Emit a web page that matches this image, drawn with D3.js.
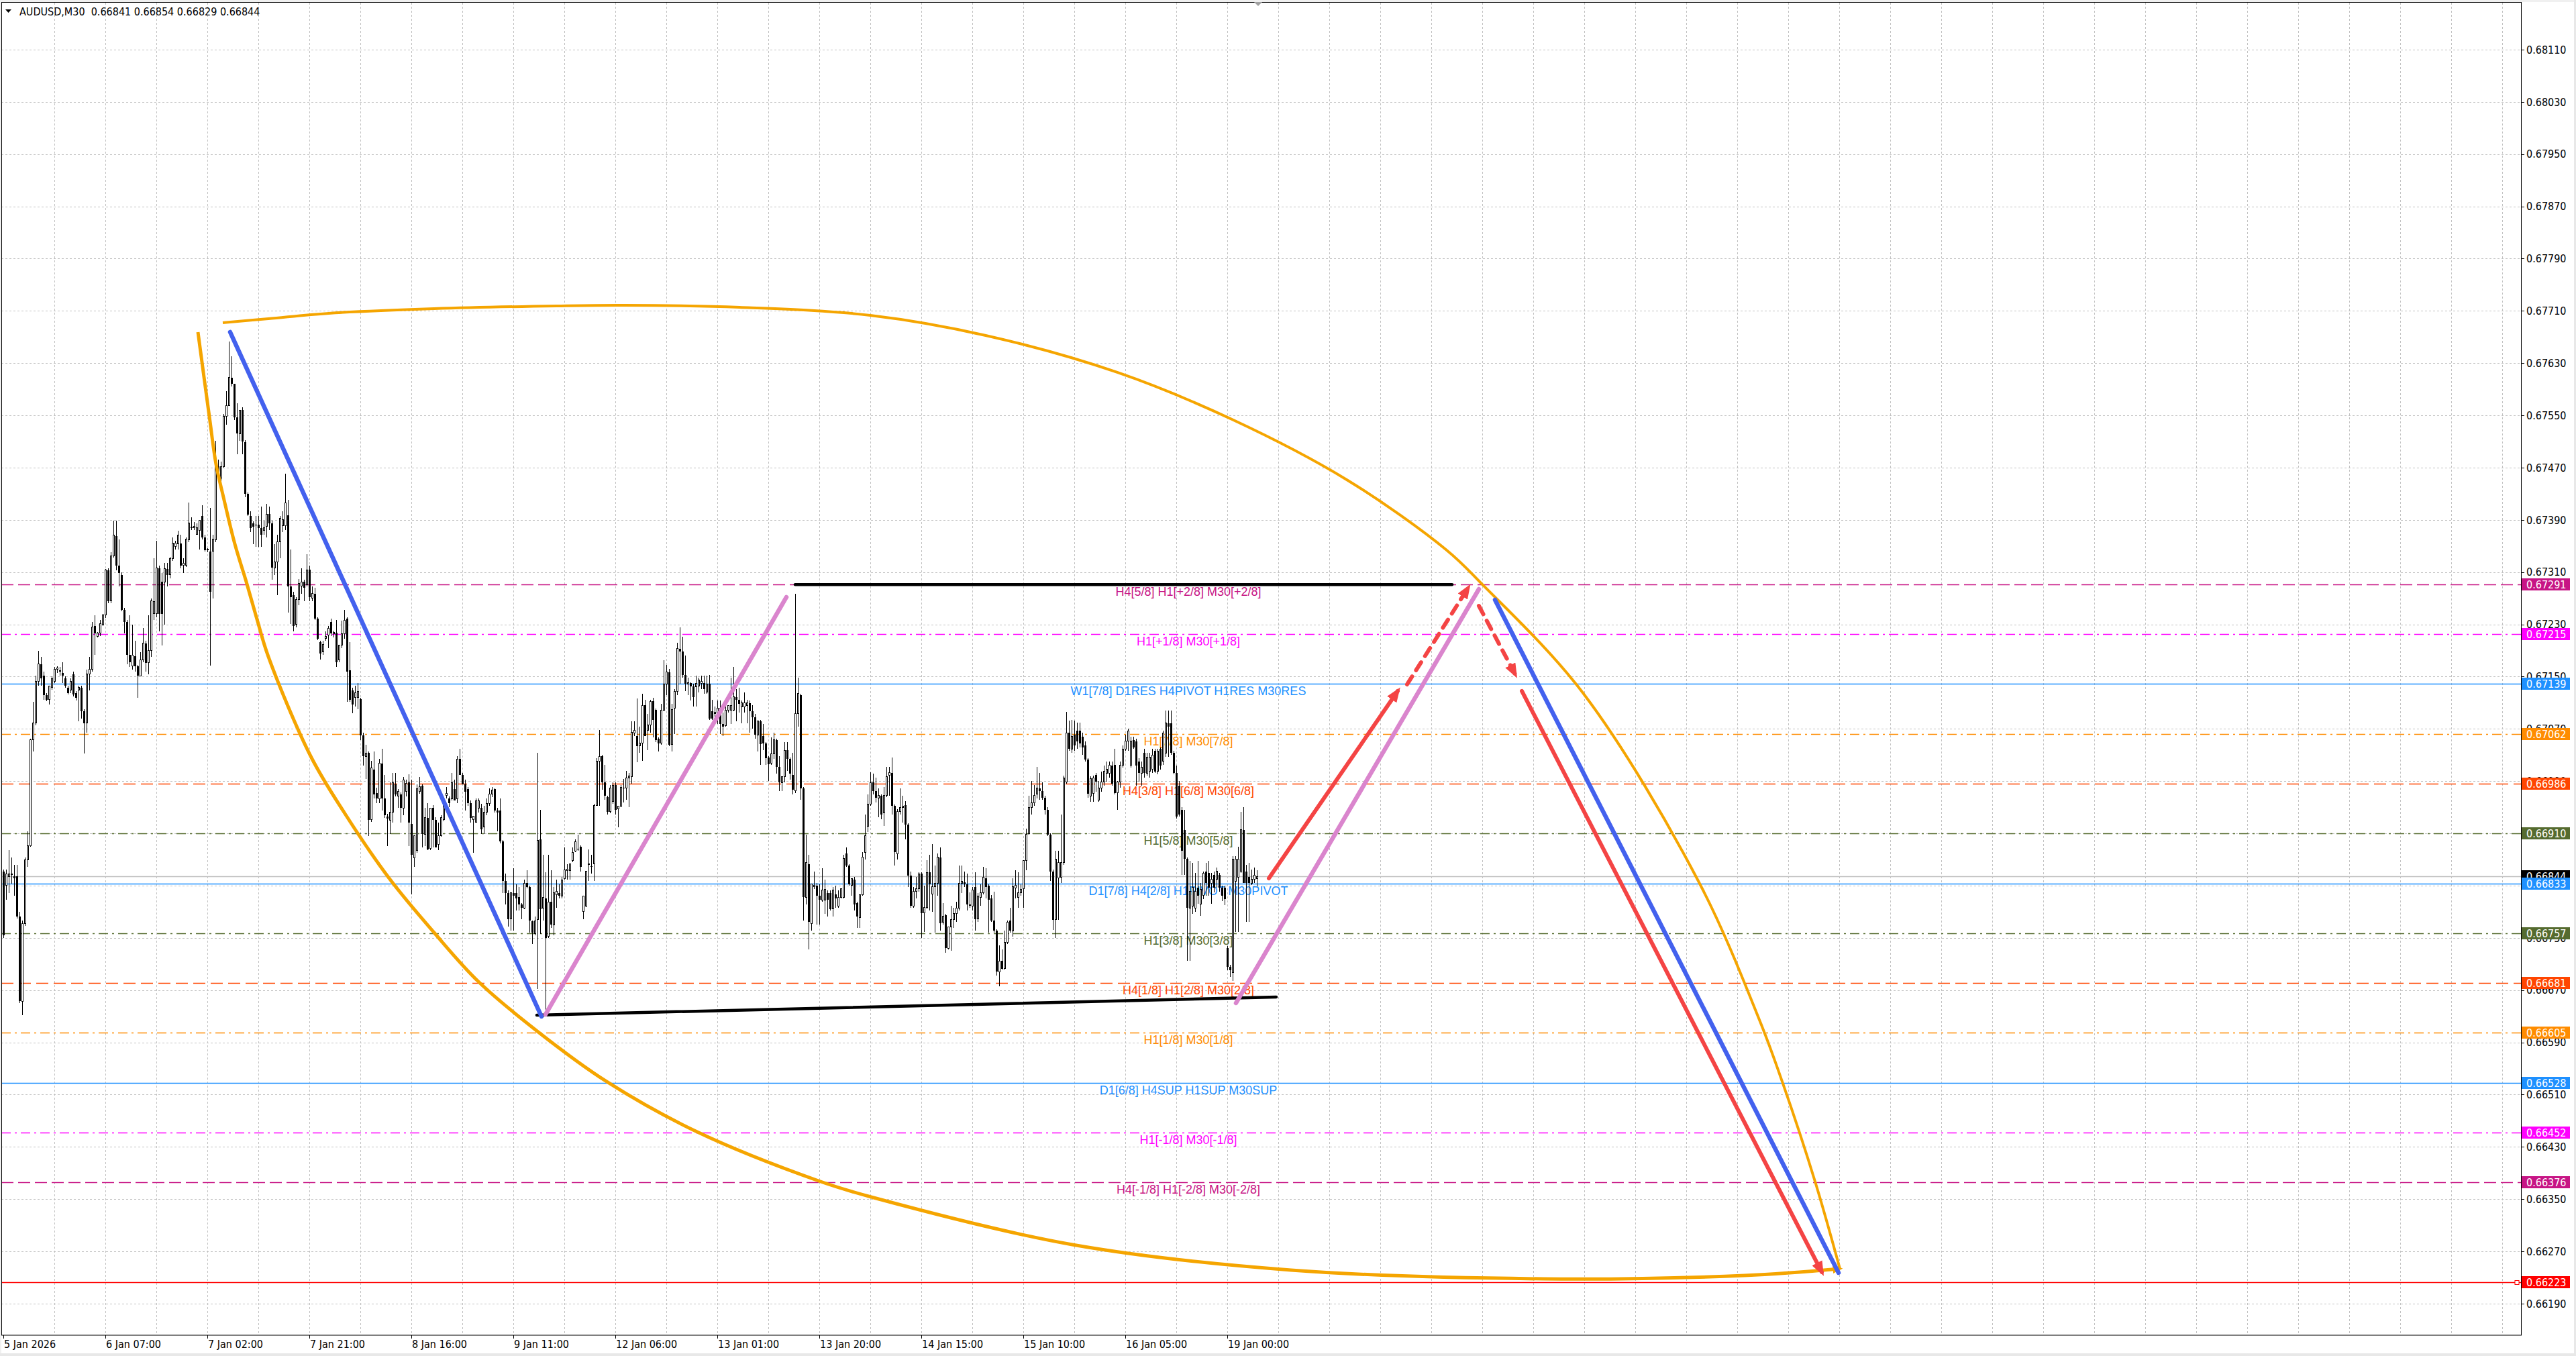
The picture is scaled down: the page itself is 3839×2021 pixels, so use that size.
<!DOCTYPE html>
<html>
<head>
<meta charset="utf-8">
<title>AUDUSD,M30</title>
<script src="https://d3js.org/d3.v7.min.js"></script>
<style>
  html, body { margin: 0; padding: 0; background: #fff; overflow: hidden; }
  svg { display: block; }
  .axis-text { font-family: "DejaVu Sans Condensed", "DejaVu Sans", sans-serif; font-stretch: condensed; font-size: 16px; }
  .level-text { font-family: "Liberation Sans", Arial, sans-serif; font-size: 18px; }
</style>
</head>
<body>
<svg id="chart"></svg>
<script>
/* global d3 */

// ---- data (prices in points, 1 point = 0.00001) ----
var symbol = "AUDUSD,M30";

var opens = [
66851,66830,66844,66848,66844,66844,66783,66653,66772,66869,
66891,67053,67079,67143,67169,67151,67122,67115,67133,67143,
67161,67160,67156,67147,67133,67129,67154,67125,67129,67133,
67097,67079,67154,67161,67228,67212,67217,67230,67244,67313,
67266,67335,67365,67320,67306,67252,67234,67183,67166,67181,
67166,67151,67176,67201,67171,67190,67246,67246,67316,67295,
67295,67315,67306,67331,67349,67353,67354,67320,67320,67360,
67380,67378,67368,67374,67396,67363,67344,67342,67342,67360,
67472,67454,67472,67549,67565,67608,67598,67547,67522,67558,
67509,67430,67396,67385,67383,67383,67378,67374,67380,67399,
67385,67316,67326,67356,67381,67381,67397,67288,67275,67230,
67268,67289,67295,67291,67314,67270,67277,67239,67203,67188,
67208,67214,67234,67216,67217,67176,67198,67216,67239,67160,
67129,67118,67118,67116,67060,67028,67033,66931,67008,66972,
66963,67017,66963,66936,66930,66942,66985,66967,66970,66949,
66974,66988,66924,66873,66884,66974,66983,66909,66934,66887,
66949,66931,66893,66906,66931,66968,66963,66963,66978,66963,
67024,66999,66985,66978,66956,66931,66927,66949,66949,66920,
66942,66956,66970,66978,66945,66945,66898,66837,66819,66779,
66819,66819,66812,66801,66796,66834,66828,66775,66756,66778,
66901,66796,66810,66752,66805,66770,66816,66819,66814,66841,
66853,66853,66868,66883,66886,66890,66790,66799,66862,66860,
66863,66953,67021,67028,66988,66966,66943,66959,66984,66948,
66952,66980,66979,66995,66997,67064,67059,67044,67048,67106,
67068,67076,67112,67099,67055,67048,67099,67139,67157,67046,
67102,67127,67193,67188,67152,67139,67140,67135,67135,67136,
67140,67140,67126,67139,67097,67093,67093,67102,67077,67075,
67099,67099,67099,67119,67114,67104,67104,67106,67109,67097,
67088,67061,67082,67059,67048,67026,67017,67032,67053,67012,
66988,66997,67037,67024,66999,66975,67093,67122,66979,66812,
66863,66772,66828,66830,66814,66808,66808,66819,66819,66794,
66817,66799,66812,66812,66879,66861,66830,66839,66803,66781,
66816,66881,66921,66955,66988,66975,66964,66968,66941,66968,
66999,67003,66952,66879,66943,66950,66953,66923,66845,66799,
66821,66825,66848,66788,66797,66850,66817,66828,66834,66873,
66774,66785,66734,66767,66778,66787,66796,66834,66835,66832,
66801,66799,66828,66779,66812,66819,66841,66830,66810,66776,
66761,66698,66715,66703,66743,66776,66761,66826,66812,66819,
66825,66868,66910,66950,66957,66970,66979,66975,66965,66946,
66908,66852,66778,66842,66843,66865,66989,67064,67039,67061,
67067,67067,67058,67045,67023,66967,66971,66999,66961,66979,
66989,67002,67002,67014,67015,66972,66989,67014,67039,67051,
67014,67053,67051,67020,67002,67033,67002,67005,67008,67036,
67005,67039,67020,67033,67079,67079,67033,67002,66983,66946,
66915,66871,66796,66799,66796,66827,66802,66815,66852,66849,
66834,66846,66840,66846,66827,66827,66734,66706,66697,66837,
66843,66852,66915,66852,66843,66834,66840,66841
];

var highs = [
66855,66855,66884,66873,66862,66862,66790,66776,66873,66913,
67055,67111,67151,67189,67180,67158,67125,67136,67150,67165,
67166,67165,67172,67150,67136,67147,67158,67128,67136,67136,
67100,67161,67180,67234,67244,67218,67237,67246,67315,67316,
67340,67389,67389,67360,67310,67255,67237,67244,67230,67205,
67168,67187,67224,67205,67244,67270,67331,67358,67320,67309,
67324,67324,67333,67363,67358,67373,67367,67331,67363,67417,
67394,67387,67385,67389,67412,67367,67347,67408,67367,67511,
67482,67479,67552,67587,67663,67641,67598,67569,67558,67562,
67512,67432,67403,67388,67396,67396,67410,67389,67414,67410,
67389,67353,67367,67396,67403,67461,67421,67345,67280,67272,
67299,67316,67298,67337,67320,67288,67286,67241,67205,67205,
67219,67228,67239,67220,67237,67198,67236,67252,67241,67203,
67133,67136,67140,67118,67064,67046,67035,67021,67035,66980,
67024,67039,66999,66940,66988,67003,67003,66978,66973,66996,
66992,67000,66992,66906,66985,66996,66985,66949,66956,66949,
66953,66935,66927,66938,66960,66981,66967,67003,66992,67028,
67039,67003,66992,66981,66960,66936,66963,66963,66955,66952,
66963,66979,66981,66979,66949,66963,66900,66848,66823,66820,
66857,66832,66828,66803,66839,66854,66830,66777,66783,67033,
66946,66877,66850,66877,66854,66828,66839,66832,66843,66888,
66863,66863,66888,66901,66908,66892,66814,66853,66885,66877,
66955,67025,67068,67030,67015,66968,66984,66988,66988,66952,
66984,66993,67006,67002,67082,67082,67117,67073,67124,67115,
67093,67115,67118,67101,67057,67108,67175,67168,67162,67108,
67131,67202,67225,67211,67182,67148,67141,67139,67151,67148,
67151,67151,67151,67153,67115,67104,67113,67113,67095,67104,
67106,67148,67165,67131,67133,67113,67126,67114,67113,67106,
67093,67082,67084,67077,67050,67028,67057,67064,67055,67028,
66997,67050,67050,67026,67033,67277,67148,67124,66981,66908,
66877,66832,66852,66834,66832,66857,66839,66823,66823,66828,
66830,66823,66826,66877,66888,66863,66841,66843,66805,66817,
66881,66939,66970,67004,67001,66995,66979,66970,66981,67012,
67012,67026,66954,66947,66979,66968,66959,66925,66852,66828,
66843,66850,66850,66830,66869,66877,66894,66861,66879,66888,
66803,66787,66767,66799,66796,66805,66861,66861,66852,66848,
66820,66828,66850,66819,66832,66859,66857,66832,66816,66821,
66763,66738,66732,66761,66776,66796,66841,66854,66850,66832,
66868,66917,66968,66990,66984,67012,67002,66988,66968,66950,
66910,66855,66883,66883,66939,66998,67096,67083,67084,67083,
67080,67080,67064,67051,67025,66997,66998,67002,66990,67005,
67014,67020,67020,67020,67039,66990,67020,67045,67061,67070,
67058,67058,67055,67025,67020,67039,67033,67033,67039,67039,
67039,67042,67067,67098,67098,67098,67036,67014,66990,66950,
66946,66873,66868,66865,66849,66868,66834,66852,66865,66868,
66849,66852,66858,66849,66830,66830,66737,66709,66875,66875,
66890,66943,66950,66862,66865,66855,66858,66854
];

var lows = [
66750,66808,66819,66833,66815,66780,66650,66632,66768,66859,
66890,67035,67075,67136,67136,67115,67112,67107,67130,67140,
67156,67151,67140,67133,67123,67125,67120,67113,67082,67086,
67032,67064,67129,67158,67183,67210,67212,67228,67240,67262,
67262,67332,67313,67288,67250,67216,67169,67165,67161,67158,
67118,67150,67172,67158,67154,67180,67237,67241,67219,67198,
67230,67288,67300,67327,67345,67345,67316,67309,67318,67356,
67374,67374,67367,67345,67360,67342,67340,67167,67270,67356,
67450,67435,67470,67536,67565,67594,67543,67490,67511,67490,
67425,67396,67371,67353,67349,67349,67349,67367,67363,67374,
67298,67306,67275,67331,67371,67374,67248,67231,67219,67225,
67259,67277,67266,67288,67266,67266,67237,67206,67176,67183,
67205,67194,67212,67210,67165,67172,67194,67208,67111,67111,
67094,67104,67100,67053,67014,66993,66906,66928,66963,66956,
66956,66945,66934,66891,66909,66927,66967,66949,66927,66938,
66967,66891,66817,66859,66880,66971,66888,66891,66884,66884,
66888,66888,66884,66905,66929,66963,66950,66960,66960,66956,
66999,66985,66945,66952,66927,66880,66927,66942,66909,66909,
66938,66952,66966,66942,66913,66895,66819,66801,66767,66761,
66761,66792,66792,66779,66794,66826,66758,66741,66754,66672,
66756,66776,66632,66750,66765,66754,66796,66810,66810,66839,
66839,66839,66866,66881,66883,66852,66779,66797,66837,66848,
66837,66952,66952,66977,66961,66939,66941,66955,66939,66919,
66950,66957,66961,66950,66986,67059,67019,67033,67021,67059,
67037,67064,67057,67050,67035,67046,67097,67122,67044,67035,
67062,67122,67139,67148,67128,67122,67113,67104,67104,67126,
67131,67124,67124,67084,67084,67082,67077,67062,67059,67073,
67095,67077,67097,67082,67095,67079,67095,67079,67064,67070,
67055,67035,67015,67037,67015,66990,67015,67024,67001,66975,
66975,66988,67006,66992,66970,66972,67073,66961,66776,66801,
66732,66761,66825,66770,66770,66805,66787,66783,66792,66783,
66796,66796,66810,66810,66859,66830,66814,66792,66765,66765,
66814,66870,66912,66952,66970,66957,66935,66932,66921,66966,
66968,66939,66861,66870,66939,66926,66901,66828,66796,66796,
66810,66821,66750,66759,66794,66792,66790,66758,66814,66761,
66770,66727,66732,66730,66765,66774,66792,66819,66828,66792,
66796,66792,66761,66774,66799,66817,66810,66758,66774,66758,
66692,66676,66701,66701,66741,66758,66752,66810,66796,66814,
66796,66854,66908,66939,66952,66963,66961,66961,66939,66906,
66837,66762,66750,66778,66834,66862,66986,67036,67033,67036,
67039,67042,67030,67020,66964,66958,66958,66974,66958,66974,
66983,66989,66995,66983,66970,66946,66980,67011,67036,67036,
67011,67040,66983,66989,66983,66995,66998,66995,67002,67002,
67000,67008,67015,67027,67027,67030,67000,66933,66936,66846,
66846,66715,66715,66787,66790,66802,66784,66809,66815,66815,
66802,66820,66827,66821,66806,66800,66700,66690,66684,66759,
66759,66849,66834,66774,66774,66831,66834,66829
];

var closes = [
66754,66848,66848,66846,66841,66783,66653,66772,66869,66891,
67053,67079,67143,67169,67147,67122,67115,67136,67147,67161,
67163,67158,67151,67136,67125,67143,67123,67118,67133,67097,
67079,67154,67161,67226,67216,67217,67231,67244,67313,67266,
67335,67367,67320,67309,67252,67234,67183,67172,67183,67166,
67151,67176,67201,67171,67190,67266,67265,67316,67246,67246,
67315,67306,67331,67354,67354,67367,67320,67324,67361,67385,
67378,67380,67378,67389,67363,67344,67345,67280,67361,67472,
67454,67472,67549,67565,67608,67598,67547,67522,67558,67510,
67430,67398,67378,67380,67383,67378,67367,67378,67399,67385,
67317,67326,67356,67392,67390,67416,67288,67272,67228,67268,
67293,67295,67286,67313,67272,67277,67239,67208,67185,67199,
67212,67224,67216,67218,67172,67198,67216,67236,67158,67115,
67107,67125,67127,67060,67028,67033,66931,67010,66970,66963,
67017,66963,66938,66933,66942,66988,66970,66974,66949,66992,
66987,66927,66877,66906,66978,66981,66909,66934,66885,66949,
66931,66888,66906,66934,66960,66971,66956,66988,66960,67024,
66999,66985,66974,66956,66934,66936,66960,66960,66916,66942,
66956,66970,66976,66945,66942,66898,66837,66819,66779,66819,
66815,66810,66801,66796,66834,66828,66776,66758,66776,66899,
66794,66812,66750,66805,66770,66819,66821,66814,66839,66854,
66855,66863,66881,66897,66885,66859,66814,66852,66863,66859,
66953,67021,67028,66988,66968,66943,66979,66984,66946,66952,
66980,66979,66995,66998,67065,67068,67044,67048,67106,67059,
67076,67112,67084,67053,67048,67099,67139,67157,67046,67100,
67127,67193,67188,67153,67139,67141,67135,67119,67140,67145,
67143,67131,67139,67086,67086,67095,67102,67077,67073,67099,
67106,67106,67119,67115,67108,67110,67110,67110,67097,67088,
67061,67082,67047,67048,67025,67016,67032,67053,67012,66988,
66997,67037,67024,67001,66977,67093,67124,66979,66812,66865,
66774,66832,66830,66814,66808,66823,66824,66808,66794,66823,
66810,66812,66825,66872,66861,66832,66841,66801,66783,66816,
66874,66906,66955,66988,66975,66964,66968,66939,66968,66997,
67003,66952,66881,66943,66950,66952,66923,66845,66799,66821,
66825,66848,66788,66797,66850,66832,66828,66834,66874,66772,
66783,66734,66767,66778,66787,66796,66834,66837,66832,66801,
66799,66823,66779,66814,66819,66843,66828,66808,66776,66761,
66698,66714,66703,66743,66774,66761,66828,66830,66819,66824,
66868,66908,66950,66957,66968,66979,66975,66965,66946,66908,
66852,66778,66871,66865,66865,66995,67064,67039,67058,67045,
67051,67048,67042,67023,66971,66994,66995,66989,66979,66989,
67005,67008,67014,66986,66972,66989,67014,67039,67051,67067,
67051,67042,67014,67002,67011,67002,67027,67027,67030,67005,
67036,67014,67064,67079,67073,67033,67002,66936,66939,66883,
66871,66796,66821,66827,66821,66815,66824,66849,66834,66827,
66840,66827,66852,66827,66815,66809,66706,66700,66871,66871,
66871,66916,66834,66834,66834,66840,66846,66844
];

var timeLabels = ["5 Jan 2026", "6 Jan 07:00", "7 Jan 02:00", "7 Jan 21:00", "8 Jan 16:00",
  "9 Jan 11:00", "12 Jan 06:00", "13 Jan 01:00", "13 Jan 20:00", "14 Jan 15:00",
  "15 Jan 10:00", "16 Jan 05:00", "19 Jan 00:00"];
var timeLabelBars = [0, 38, 76, 114, 152, 190, 228, 266, 304, 342, 380, 418, 456];

var priceTicks = [0.68110, 0.68030, 0.67950, 0.67870, 0.67790, 0.67710, 0.67630, 0.67550,
  0.67470, 0.67390, 0.67310, 0.67230, 0.67150, 0.67070, 0.66990, 0.66910, 0.66830,
  0.66750, 0.66670, 0.66590, 0.66510, 0.66430, 0.66350, 0.66270, 0.66190];

var levelPrices = [0.67291, 0.67215, 0.67139, 0.67062, 0.66986, 0.66910, 0.66833,
  0.66757, 0.66681, 0.66605, 0.66528, 0.66452, 0.66376];
var levelLabels = ["H4[5/8] H1[+2/8] M30[+2/8]", "H1[+1/8] M30[+1/8]",
  "W1[7/8] D1RES H4PIVOT H1RES M30RES", "H1[7/8] M30[7/8]", "H4[3/8] H1[6/8] M30[6/8]",
  "H1[5/8] M30[5/8]", "D1[7/8] H4[2/8] H1PIVOT M30PIVOT", "H1[3/8] M30[3/8]",
  "H4[1/8] H1[2/8] M30[2/8]", "H1[1/8] M30[1/8]", "D1[6/8] H4SUP H1SUP M30SUP",
  "H1[-1/8] M30[-1/8]", "H4[-1/8] H1[-2/8] M30[-2/8]"];
var targetPrice = 0.66223;

// drawn objects: [bar1, price1, bar2, price2]
var blueLines = [[84.5, 0.676775, 200.5, 0.666296], [555.75, 0.672676, 683.75, 0.662372]];
var pinkLines = [[202, 0.666327, 291.75, 0.672717], [459.25, 0.666502, 549.75, 0.67284]];
var blackLines = [[198.75, 0.666317, 474.25, 0.666594], [295, 0.67291, 539.75, 0.67291]];
var redArrows = [[471.5, 0.668412, 519.5, 0.671279], [565.75, 0.671279, 677.5, 0.662382]];
var redDashArrows = [[523, 0.671381, 545.75, 0.672861], [549.75, 0.672583, 563.25, 0.671536]];

// the two orange curves, anchor points
var arcTopBars = [81.75, 98.75, 121.25, 160.5, 206.25, 231.25, 274.25, 323, 366, 415,
  457.75, 500.5, 537.75, 550.5, 588.75, 631.75, 654.25, 662.75, 675, 684.25];
var arcTopPrices = [0.676919, 0.676980, 0.677063, 0.677134, 0.677176, 0.677186, 0.677155,
  0.677032, 0.676724, 0.676159, 0.675439, 0.674515, 0.673436, 0.672933, 0.671238,
  0.668351, 0.666245, 0.665300, 0.663769, 0.662433];
var arcLowBars = [72.5, 76.75, 79.25, 82, 86.25, 90.5, 94.5, 98.75, 114.5, 127, 143.75,
  160.5, 177, 199.25, 224.75, 258, 303.75, 324.25, 398.25, 479.75, 573.75, 648.75, 684.25];
var arcLowPrices = [0.676775, 0.675481, 0.674751, 0.674248, 0.673529, 0.672953, 0.672378,
  0.671803, 0.670282, 0.669419, 0.668412, 0.667580, 0.666830, 0.666060, 0.665300,
  0.664539, 0.663779, 0.663522, 0.662803, 0.662413, 0.662279, 0.662331, 0.662433];

// ---- layout ----
var width = 3839, height = 2021,
    plot = {left: 2, top: 4, right: 3757, bottom: 1990},
    labelBar = 441.5;

var levelColors = ["#C71585", "#FF00FF", "#1E90FF", "#FF8C00", "#FF4500", "#556B2F", "#1E90FF",
  "#556B2F", "#FF4500", "#FF8C00", "#1E90FF", "#FF00FF", "#C71585"];
var levelDash = ["18,7", "14,6,3,6", null, "14,6,3,6", "18,8", "14,6,3,6", null,
  "14,6,3,6", "18,8", "14,6,3,6", null, "14,6,3,6", "18,7"];

var x = d3.scaleLinear().domain([-0.75, 938]).range([plot.left, plot.right]);
var y = d3.scaleLinear().domain([0.661416, 0.681819]).range([plot.bottom, plot.top]);

var n = opens.length;
var bars = d3.range(n).map(function(i) {
  return {i: i, o: opens[i] / 1e5, h: highs[i] / 1e5, l: lows[i] / 1e5, c: closes[i] / 1e5};
});
var last = bars[n - 1];

var svg = d3.select("#chart").attr("width", width).attr("height", height);

svg.append("rect").attr("width", width).attr("height", height).attr("fill", "#fff");

var defs = svg.append("defs");
defs.append("clipPath").attr("id", "clip").append("rect")
    .attr("x", plot.left).attr("y", plot.top)
    .attr("width", plot.right - plot.left).attr("height", plot.bottom - plot.top);

function marker(id, color, w, h) {
  defs.append("marker").attr("id", id)
      .attr("markerUnits", "userSpaceOnUse")
      .attr("markerWidth", w).attr("markerHeight", h)
      .attr("viewBox", "0 0 " + w + " " + h)
      .attr("refX", w * 0.7).attr("refY", h / 2)
      .attr("orient", "auto")
    .append("path")
      .attr("d", "M0,0L" + w + "," + (h / 2) + "L0," + h + "Z")
      .attr("fill", color);
}
marker("redHead", "#F44444", 22, 17);
marker("orangeHead", "#F5A500", 15, 12);

var g = svg.append("g").attr("clip-path", "url(#clip)");

// grid
g.append("g").selectAll("line").data(d3.range(19, 938, 19)).enter().append("line")
    .attr("x1", function(d) { return Math.round(x(d)) + 0.5; })
    .attr("x2", function(d) { return Math.round(x(d)) + 0.5; })
    .attr("y1", plot.top).attr("y2", plot.bottom)
    .attr("stroke", "#C0C0C0").attr("stroke-dasharray", "3,3");
g.append("g").selectAll("line").data(priceTicks).enter().append("line")
    .attr("x1", plot.left).attr("x2", plot.right)
    .attr("y1", function(d) { return Math.round(y(d)) + 0.5; })
    .attr("y2", function(d) { return Math.round(y(d)) + 0.5; })
    .attr("stroke", "#C0C0C0").attr("stroke-dasharray", "3,3");

// level lines
g.append("g").selectAll("line").data(levelPrices).enter().append("line")
    .attr("x1", plot.left).attr("x2", plot.right)
    .attr("y1", function(d) { return Math.round(y(d)) + 0.5; })
    .attr("y2", function(d) { return Math.round(y(d)) + 0.5; })
    .attr("stroke", function(d, i) { return levelColors[i]; })
    .attr("stroke-width", 1.3)
    .attr("stroke-dasharray", function(d, i) { return levelDash[i]; });

g.append("line").attr("x1", plot.left).attr("x2", plot.right)
    .attr("y1", Math.round(y(targetPrice)) + 0.5).attr("y2", Math.round(y(targetPrice)) + 0.5)
    .attr("stroke", "#FF0000").attr("stroke-width", 1.3);
g.append("rect").attr("x", plot.right - 9).attr("y", Math.round(y(targetPrice)) - 2.5)
    .attr("width", 6).attr("height", 6).attr("fill", "#fff").attr("stroke", "#FF0000");

g.append("line").attr("x1", plot.left).attr("x2", plot.right)
    .attr("y1", Math.round(y(last.c)) + 0.5).attr("y2", Math.round(y(last.c)) + 0.5)
    .attr("stroke", "#C0C0C0").attr("stroke-width", 1.3);

// level texts
g.append("g").selectAll("text").data(levelPrices).enter().append("text")
    .attr("class", "level-text")
    .attr("x", x(labelBar))
    .attr("y", function(d) { return y(d) + 17; })
    .attr("text-anchor", "middle")
    .attr("fill", function(d, i) { return levelColors[i]; })
    .text(function(d, i) { return levelLabels[i]; });

// candles
var cg = g.append("g").attr("shape-rendering", "crispEdges");
cg.selectAll(".wick").data(bars).enter().append("line")
    .attr("class", "wick")
    .attr("x1", function(d) { return Math.round(x(d.i)) + 0.5; })
    .attr("x2", function(d) { return Math.round(x(d.i)) + 0.5; })
    .attr("y1", function(d) { return y(Math.max(d.h, d.o, d.c)); })
    .attr("y2", function(d) { return y(Math.min(d.l, d.o, d.c)); })
    .attr("stroke", "#000");
cg.selectAll(".body").data(bars).enter().append("rect")
    .attr("class", "body")
    .attr("x", function(d) { return Math.round(x(d.i)) - (d.c > d.o ? 1 : 1.5) + 0.5; })
    .attr("y", function(d) { return y(Math.max(d.o, d.c)); })
    .attr("width", function(d) { return d.c > d.o ? 2 : 3; })
    .attr("height", function(d) { return Math.max(1, Math.abs(y(d.o) - y(d.c))); })
    .attr("fill", function(d) { return d.c > d.o ? "#fff" : "#000"; })
    .attr("stroke", function(d) { return d.c > d.o ? "#000" : "none"; });

// drawn objects
var og = g.append("g").attr("fill", "none");
var curve = d3.line()
    .x(function(d) { return x(d[0]); })
    .y(function(d) { return y(d[1]); })
    .curve(d3.curveCatmullRom.alpha(0.5));

og.append("path")
    .attr("d", curve(arcTopBars.map(function(b, i) { return [b, arcTopPrices[i]]; })))
    .attr("stroke", "#F5A500").attr("stroke-width", 4);
og.append("path")
    .attr("d", curve(arcLowBars.map(function(b, i) { return [b, arcLowPrices[i]]; })))
    .attr("stroke", "#F5A500").attr("stroke-width", 5)
    .attr("marker-end", "url(#orangeHead)");

function segs(data, color, w, dash, head) {
  og.append("g").selectAll("line").data(data).enter().append("line")
      .attr("x1", function(d) { return x(d[0]); })
      .attr("y1", function(d) { return y(d[1]); })
      .attr("x2", function(d) { return x(d[2]); })
      .attr("y2", function(d) { return y(d[3]); })
      .attr("stroke", color).attr("stroke-width", w)
      .attr("stroke-linecap", "round")
      .attr("stroke-dasharray", dash)
      .attr("marker-end", head);
}
segs(blackLines, "#000", 4.5, null, null);
segs(pinkLines, "#DA85CD", 6.5, null, null);
segs(blueLines, "#4361EE", 6.5, null, null);
segs(redArrows, "#F44444", 6, null, "url(#redHead)");
segs(redDashArrows, "#F44444", 6, "14,11", "url(#redHead)");

// frame
svg.append("rect").attr("x", 0).attr("y", 0).attr("width", width).attr("height", 3).attr("fill", "#F0F0F0");
svg.append("rect").attr("x", 0).attr("y", 0).attr("width", 2).attr("height", height).attr("fill", "#F0F0F0");
svg.append("rect").attr("x", plot.left + 0.5).attr("y", plot.top - 0.5)
    .attr("width", plot.right - plot.left).attr("height", plot.bottom - plot.top + 0.5)
    .attr("fill", "none").attr("stroke", "#000");
svg.append("rect").attr("x", 0).attr("y", 2017).attr("width", width).attr("height", 4).attr("fill", "#E8E8E8");
svg.append("rect").attr("x", 3836).attr("y", 0).attr("width", 3).attr("height", height).attr("fill", "#E8E8E8");

// price axis
var ax = svg.append("g").attr("class", "axis-text");
ax.selectAll("line.tick").data(priceTicks).enter().append("line")
    .attr("class", "tick")
    .attr("x1", plot.right).attr("x2", plot.right + 5)
    .attr("y1", function(d) { return Math.round(y(d)) + 0.5; })
    .attr("y2", function(d) { return Math.round(y(d)) + 0.5; })
    .attr("stroke", "#000");
ax.selectAll("text.tick").data(priceTicks).enter().append("text")
    .attr("class", "tick")
    .attr("x", plot.right + 8)
    .attr("y", function(d) { return y(d); })
    .attr("dy", "0.36em")
    .attr("fill", "#000")
    .text(function(d) { return d.toFixed(5); });

// price tags
var tags = levelPrices.slice(0, 6).map(function(p, i) { return {p: p, c: levelColors[i]}; })
  .concat([{p: last.c, c: "#000"}])
  .concat(levelPrices.slice(6).map(function(p, i) { return {p: p, c: levelColors[i + 6]}; }))
  .concat([{p: targetPrice, c: "#FF0000"}]);
var tg = ax.selectAll("g.tag").data(tags).enter().append("g").attr("class", "tag");
tg.append("rect")
    .attr("x", plot.right + 1).attr("y", function(d) { return Math.round(y(d.p)) - 9; })
    .attr("width", 72).attr("height", 18)
    .attr("fill", function(d) { return d.c; });
tg.append("text")
    .attr("x", plot.right + 8).attr("y", function(d) { return y(d.p); })
    .attr("dy", "0.36em").attr("fill", "#fff")
    .text(function(d) { return d.p.toFixed(5); });

// time axis
ax.selectAll("line.ttick").data(timeLabelBars).enter().append("line")
    .attr("class", "ttick")
    .attr("x1", function(d) { return Math.round(x(d)) + 0.5; })
    .attr("x2", function(d) { return Math.round(x(d)) + 0.5; })
    .attr("y1", plot.bottom).attr("y2", plot.bottom + 5)
    .attr("stroke", "#000");
ax.selectAll("text.ttick").data(timeLabelBars).enter().append("text")
    .attr("class", "ttick")
    .attr("x", function(d) { return x(d) + 1; })
    .attr("y", plot.bottom + 19)
    .attr("fill", "#000")
    .text(function(d, i) { return timeLabels[i]; });

// header
svg.append("path").attr("d", "M8,14L17,14L12.5,19Z").attr("fill", "#000");
ax.append("text").attr("x", 29).attr("y", 23).attr("fill", "#000")
    .text(symbol + "\u00a0 " + [last.o, last.h, last.l, last.c].map(function(v) { return v.toFixed(5); }).join(" "));

// chart shift marker
var sx = Math.round(x(n - 1)) + 2;
svg.append("path").attr("d", "M" + (sx - 6) + ",3L" + (sx + 6) + ",3L" + sx + ",9Z").attr("fill", "#A0A0A0");
</script>
</body>
</html>
